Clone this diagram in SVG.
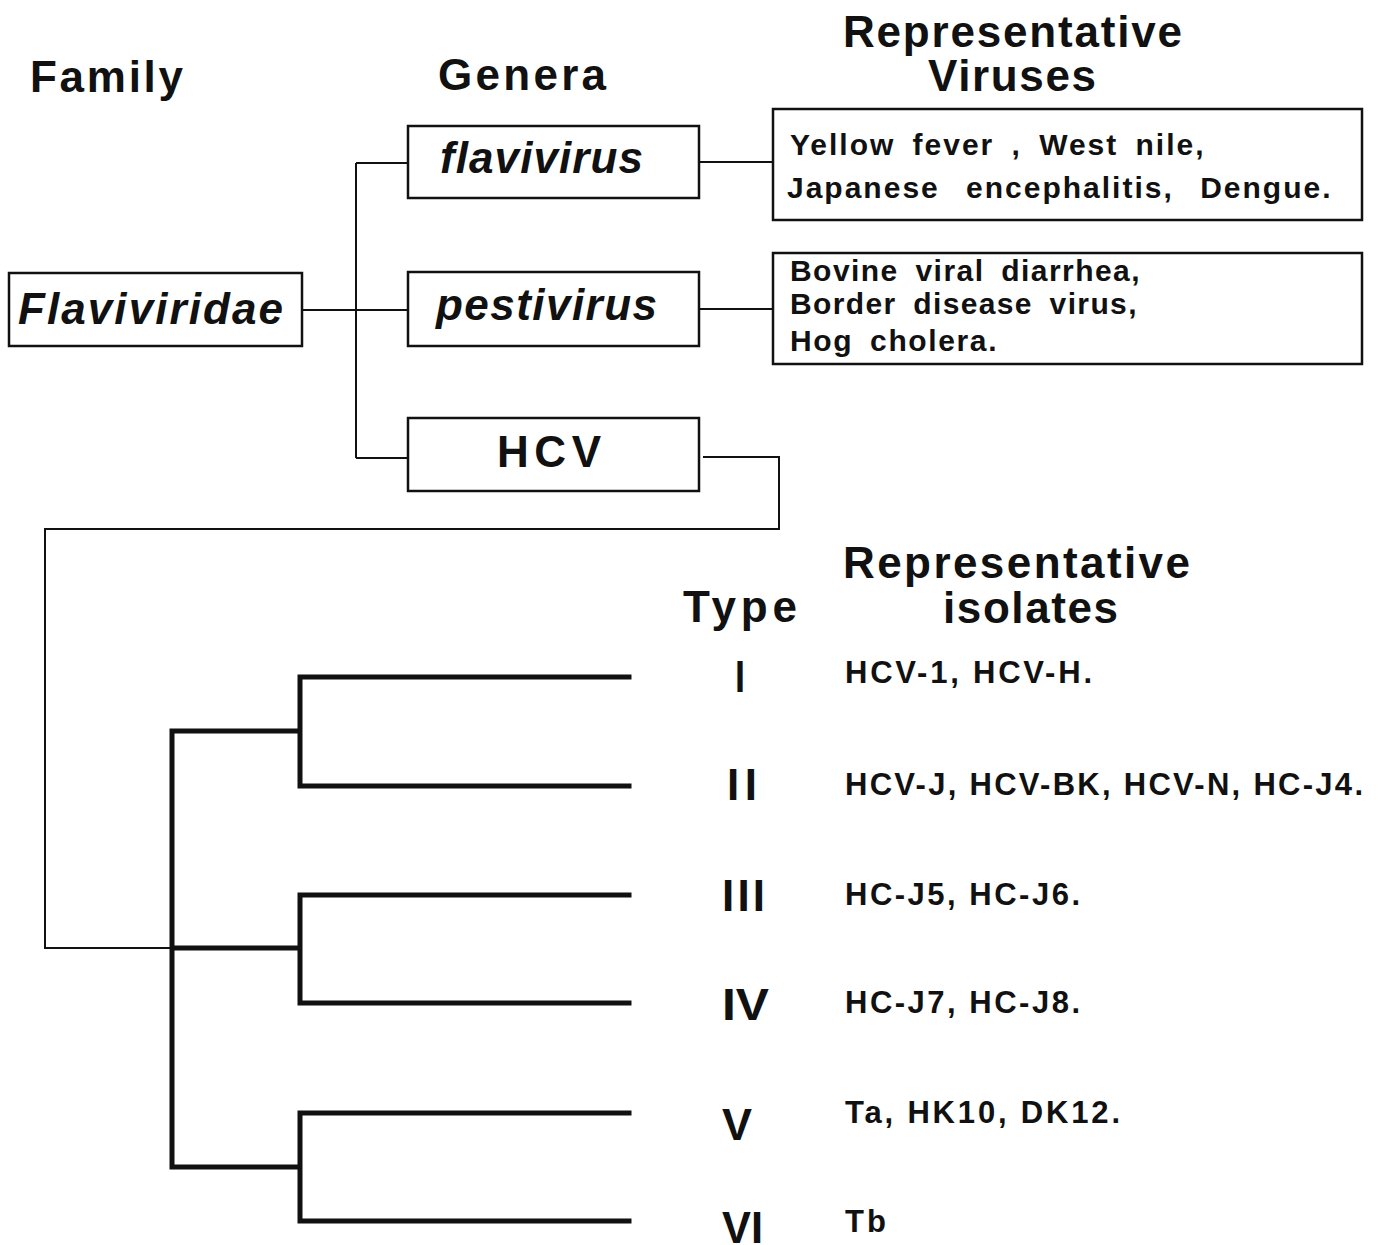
<svg xmlns="http://www.w3.org/2000/svg" width="1381" height="1245" viewBox="0 0 1381 1245">
<style>
text{font-family:"Liberation Sans",Arial,sans-serif;font-weight:bold;fill:#111}
.h{font-size:44px}
.bx{fill:#fff;stroke:#111;stroke-width:2.5}
.g{font-size:44px;font-style:italic}
.v{font-size:30px;letter-spacing:1.5px;word-spacing:7px}
.t{font-size:44px}
.iso{font-size:31px}
.c{fill:none;stroke:#111;stroke-width:2}
.tr{fill:none;stroke:#111;stroke-width:5;stroke-linecap:square}
</style>
<rect width="1381" height="1245" fill="#fff"/>
<g id="headings">
<text class="h" x="843" y="47" textLength="339" lengthAdjust="spacing">Representative</text>
<text class="h" x="30" y="92" textLength="153" lengthAdjust="spacing">Family</text>
<text class="h" x="438" y="90" textLength="168" lengthAdjust="spacing">Genera</text>
<text class="h" x="928" y="91" textLength="168" lengthAdjust="spacing">Viruses</text>
<text class="h" x="843" y="578" textLength="347" lengthAdjust="spacing">Representative</text>
<text class="h" x="683" y="622" textLength="114" lengthAdjust="spacing">Type</text>
<text class="h" x="943" y="623" textLength="175" lengthAdjust="spacing">isolates</text>
</g>
<g id="connectors">
<path class="c" d="M302 310 H408 M356 163 V458 M356 163 H408 M356 458 H408"/>
<path class="c" d="M699 162 H773 M699 309 H773"/>
<path class="c" stroke-width="2.5" d="M703 457 H779 V529 H45 V948 H172"/>
<path class="tr" d="M172 948 H300 M172 731 V1167 M172 731 H300 M172 1167 H300 M300 677 V786 M300 895 V1003 M300 1113 V1221 M300 677 H629 M300 786 H629 M300 895 H629 M300 1003 H629 M300 1113 H629 M300 1221 H629"/>
</g>
<g id="node-flaviviridae">
<rect class="bx" x="9" y="273" width="293" height="73"/>
<text class="g" x="18" y="324" textLength="265" lengthAdjust="spacing">Flaviviridae</text>
</g>
<g id="node-flavivirus">
<rect class="bx" x="408" y="126" width="291" height="72"/>
<text class="g" x="440" y="173" textLength="203" lengthAdjust="spacing">flavivirus</text>
</g>
<g id="node-pestivirus">
<rect class="bx" x="408" y="272" width="291" height="74"/>
<text class="g" x="436" y="320" textLength="221" lengthAdjust="spacing">pestivirus</text>
</g>
<g id="node-hcv">
<rect class="bx" x="408" y="418" width="291" height="73"/>
<text class="h" x="497" y="467" textLength="104" lengthAdjust="spacing">HCV</text>
</g>
<g id="node-flavi-viruses">
<rect class="bx" x="773" y="109" width="589" height="111"/>
<text class="v" x="790" y="155" textLength="415" lengthAdjust="spacing">Yellow fever ,  West nile,</text>
<text class="v" x="787" y="198" textLength="545" lengthAdjust="spacing" style="word-spacing:16px">Japanese encephalitis, Dengue.</text>
</g>
<g id="node-pesti-viruses">
<rect class="bx" x="773" y="253" width="589" height="111"/>
<text class="v" x="790" y="281" textLength="351" lengthAdjust="spacing">Bovine viral diarrhea,</text>
<text class="v" x="790" y="314" textLength="348" lengthAdjust="spacing">Border disease virus,</text>
<text class="v" x="790" y="351" textLength="208" lengthAdjust="spacing">Hog cholera.</text>
</g>
<g id="type-I">
<text class="t" x="735" y="692" textLength="10" lengthAdjust="spacingAndGlyphs">I</text>
<text class="iso" x="845" y="683" textLength="247" lengthAdjust="spacing">HCV-1, HCV-H.</text>
</g>
<g id="type-II">
<text class="t" x="727" y="800" textLength="30" lengthAdjust="spacing">II</text>
<text class="iso" x="845" y="795" textLength="518" lengthAdjust="spacing">HCV-J, HCV-BK, HCV-N, HC-J4.</text>
</g>
<g id="type-III">
<text class="t" x="722" y="911" textLength="43" lengthAdjust="spacing">III</text>
<text class="iso" x="845" y="905" textLength="235" lengthAdjust="spacing">HC-J5, HC-J6.</text>
</g>
<g id="type-IV">
<text class="t" x="722" y="1020" textLength="47" lengthAdjust="spacingAndGlyphs">IV</text>
<text class="iso" x="845" y="1013" textLength="235" lengthAdjust="spacing">HC-J7, HC-J8.</text>
</g>
<g id="type-V">
<text class="t" x="722" y="1140" textLength="30" lengthAdjust="spacingAndGlyphs">V</text>
<text class="iso" x="845" y="1123" textLength="275" lengthAdjust="spacing">Ta, HK10, DK12.</text>
</g>
<g id="type-VI">
<text class="t" x="722" y="1243" textLength="41" lengthAdjust="spacingAndGlyphs">VI</text>
<text class="iso" x="845" y="1232" textLength="41" lengthAdjust="spacing">Tb</text>
</g>
</svg>
